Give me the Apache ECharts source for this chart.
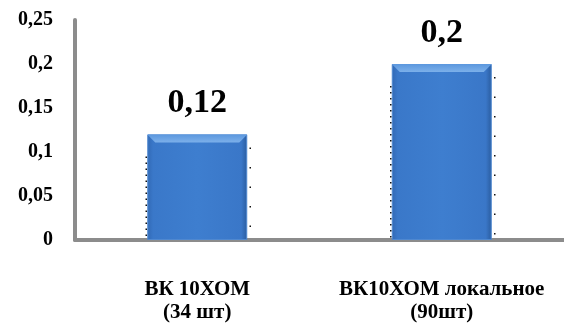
<!DOCTYPE html>
<html>
<head>
<meta charset="utf-8">
<script src="https://cdn.jsdelivr.net/npm/echarts@6/dist/echarts.min.js"></script>
<style>
  html, body { margin: 0; padding: 0; background: #fff; }
  #chart { width: 564px; height: 328px; }
</style>
</head>
<body>
<div id="chart"></div>
<script>
// Categories and values
const categories = ['ВК 10ХОМ\n(34 шт)', 'ВК10ХОМ локальное\n(90шт)'];
const values = [0.12, 0.2];
const valueLabels = ['0,12', '0,2'];

const fmt = v => String(+v.toFixed(2)).replace('.', ',');
const BAR_W = 100;

const chart = echarts.init(document.getElementById('chart'), null, { renderer: 'canvas' });

const barColor = {
  type: 'linear', x: 0, y: 0, x2: 1, y2: 0,
  colorStops: [
    { offset: 0, color: '#3169b5' },
    { offset: 0.06, color: '#3a78c9' },
    { offset: 0.5, color: '#3e7ecf' },
    { offset: 0.94, color: '#3a77c8' },
    { offset: 1, color: '#2a5c9f' }
  ]
};

// Bevelled top and dotted side guides drawn over each bar
function renderBevel(params, api) {
  const i = api.value(0);
  const top = api.coord([i, api.value(1)]);
  const base = api.coord([i, 0]);
  const x0 = top[0] - BAR_W / 2;
  const x1 = top[0] + BAR_W / 2;
  const y0 = top[1];
  const y1 = base[1];
  const bev = 8;
  return {
    type: 'group',
    children: [
      {
        type: 'polygon',
        shape: { points: [[x0, y0], [x1, y0], [x1 - bev, y0 + bev], [x0 + bev, y0 + bev]] },
        style: {
          fill: {
            type: 'linear', x: 0, y: 0, x2: 0, y2: 1,
            colorStops: [
              { offset: 0, color: '#5b97de' },
              { offset: 1, color: '#7cb0ea' }
            ]
          }
        }
      },
      {
        type: 'line',
        shape: { x1: x0 - 1, y1: y0 + 22, x2: x0 - 1, y2: y1 - 2 },
        style: { stroke: '#111', lineWidth: 1.5, lineDash: [1.5, 4.5] }
      },
      {
        type: 'line',
        shape: { x1: x1 + 3, y1: y0 + 13, x2: x1 + 3, y2: y1 - 2 },
        style: { stroke: '#111', lineWidth: 1.5, lineDash: [1.5, 18] }
      }
    ]
  };
}

chart.setOption({
  animation: false,
  grid: { left: 75, right: 0, top: 20, bottom: 88, containLabel: false },
  xAxis: {
    type: 'category',
    data: categories,
    axisLine: { show: true, lineStyle: { color: '#8c8c8c', width: 4 } },
    axisTick: { show: false },
    axisLabel: {
      interval: 0,
      margin: 38,
      color: '#000',
      fontFamily: 'Liberation Serif',
      fontWeight: 'bold',
      fontSize: 21,
      lineHeight: 23
    }
  },
  yAxis: {
    type: 'value',
    min: 0,
    max: 0.25,
    interval: 0.05,
    axisLine: { show: true, lineStyle: { color: '#8c8c8c', width: 4 } },
    axisTick: { show: false },
    splitLine: { show: false },
    axisLabel: {
      margin: 22,
      color: '#000',
      fontFamily: 'Liberation Serif',
      fontWeight: 'bold',
      fontSize: 20,
      formatter: v => fmt(v)
    }
  },
  series: [
    {
      type: 'bar',
      data: values,
      barWidth: BAR_W,
      itemStyle: { color: barColor, borderColor: '#4f88d0', borderWidth: 1 },
      label: {
        show: true,
        position: 'top',
        distance: 14,
        color: '#000',
        fontFamily: 'Liberation Serif',
        fontWeight: 'bold',
        fontSize: 34,
        formatter: p => valueLabels[p.dataIndex]
      },
      z: 2
    },
    {
      type: 'custom',
      data: values.map((v, i) => [i, v]),
      renderItem: renderBevel,
      silent: true,
      z: 3
    }
  ]
});
</script>
</body>
</html>
